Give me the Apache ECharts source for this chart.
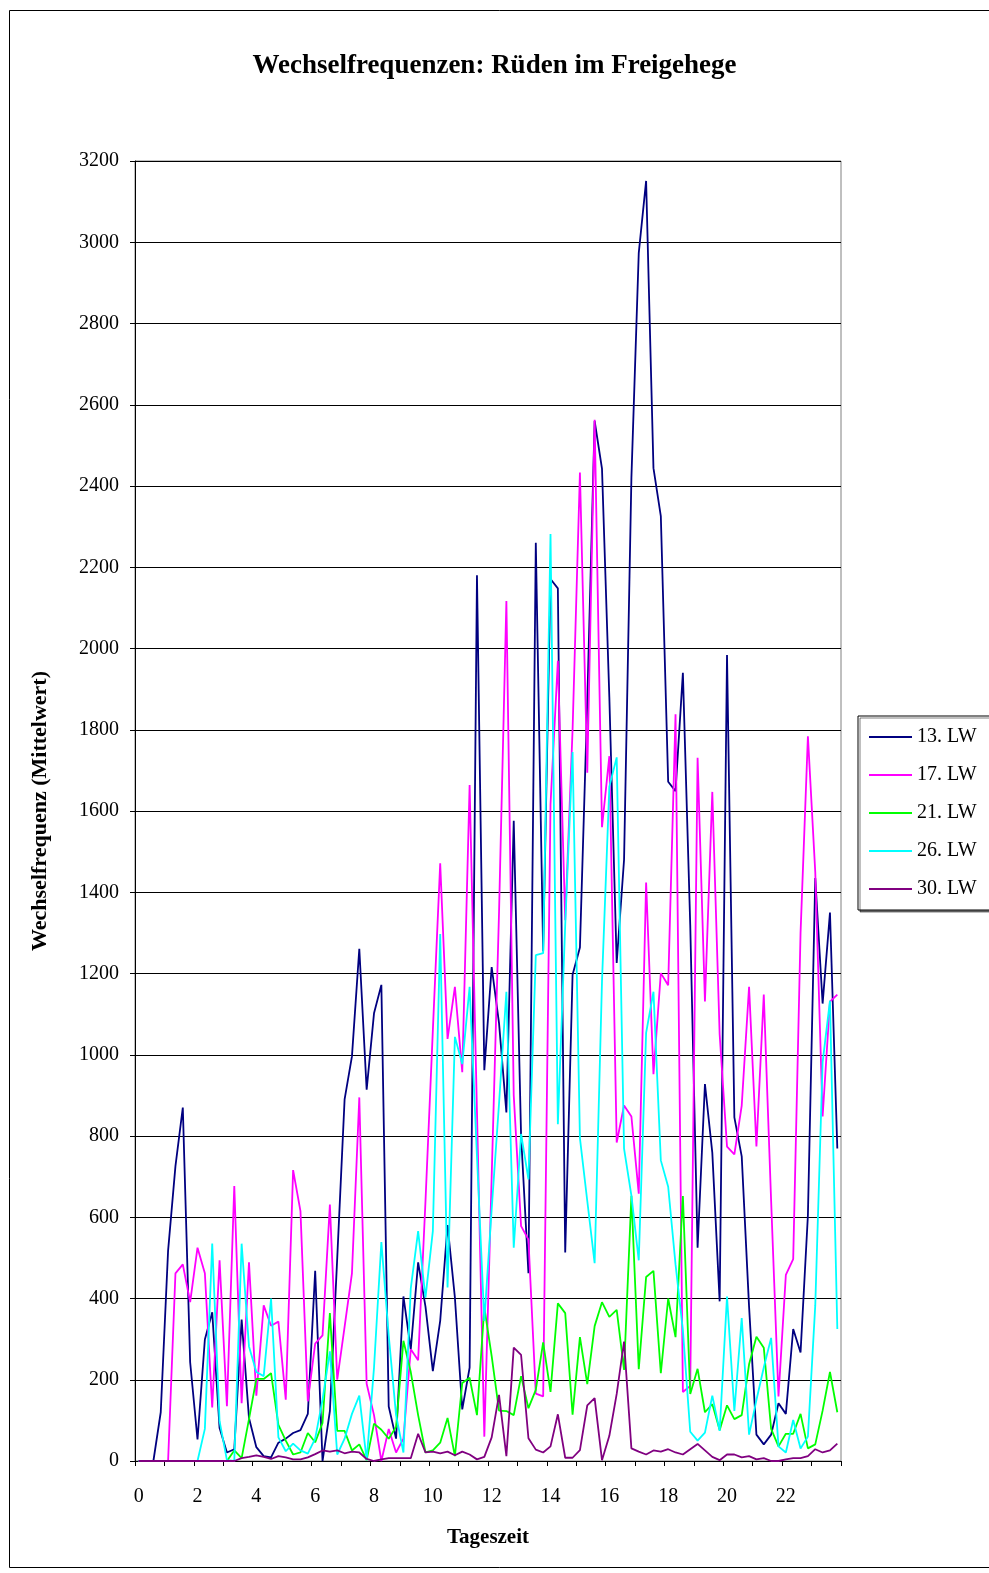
<!DOCTYPE html>
<html><head><meta charset="utf-8">
<script src="https://cdn.jsdelivr.net/npm/echarts@6/dist/echarts.min.js"></script>
<style>html,body{margin:0;padding:0;background:#fff}#c{width:989px;height:1573px}</style>
</head><body><div id="c"></div>
<script>
// time slots: 96 quarter-hours, labelled every 2 hours
const tickLabels = ["0","2","4","6","8","10","12","14","16","18","20","22"];
const seriesNames = ["13. LW","17. LW","21. LW","26. LW","30. LW"];
const lw13 = [0,0,0,120,518,726,870,243,53,299,366,81,21,29,348,106,34,12,9,45,55,69,76,116,468,0,123,500,890,996,1261,914,1102,1172,134,55,405,275,489,380,221,345,581,402,127,230,2180,962,1216,1078,858,1576,800,462,2260,1255,2171,2148,513,1197,1264,1870,2560,2443,1880,1226,1480,2420,2974,3151,2444,2326,1672,1649,1940,1320,525,928,759,393,1984,846,750,380,65,41,65,142,116,325,267,605,1435,1126,1350,769];
const lw17 = [0,0,0,0,0,462,484,391,525,462,132,494,135,677,142,489,161,383,333,343,151,716,615,147,289,309,631,200,330,462,895,190,113,0,79,21,55,275,248,640,1060,1471,1039,1167,957,1664,860,60,700,1350,2117,900,578,545,166,159,1616,1970,1331,1800,2433,1694,2563,1560,1735,784,875,848,658,1424,952,1201,1171,1838,170,185,1731,1131,1647,1050,774,755,875,1167,774,1148,640,159,458,497,1300,1784,1450,848,1131,1148];
const lw21 = [0,0,0,0,0,0,0,0,0,0,0,0,0,26,7,103,202,202,216,89,50,16,21,69,46,94,364,74,74,26,41,2,92,77,55,84,296,219,113,21,26,45,106,12,192,205,113,378,258,124,123,113,209,130,175,292,170,388,364,114,305,189,332,391,355,372,224,653,226,453,468,216,400,305,652,165,227,120,140,76,137,103,113,238,306,279,79,36,67,67,116,31,41,124,219,120];
const lw26 = [0,0,0,0,0,0,0,0,0,79,535,98,2,0,535,282,219,209,400,58,24,43,26,18,55,151,270,16,55,116,161,2,230,539,309,113,21,425,566,402,566,1297,427,1044,977,1167,750,345,620,880,1155,525,805,693,1245,1250,2282,829,1320,1745,795,640,487,1180,1660,1732,769,653,494,1054,1155,740,675,484,322,72,50,70,161,74,405,123,352,65,150,230,303,36,21,101,31,60,383,981,1133,325];
const lw30 = [0,0,0,0,0,0,0,0,0,0,0,0,0,0,7,10,14,10,5,12,9,4,4,9,17,26,23,26,19,23,21,5,0,4,7,7,7,7,67,21,23,19,23,14,23,16,4,10,58,163,12,279,261,56,28,21,36,115,8,8,27,137,155,2,62,165,294,31,23,16,26,23,29,21,16,29,42,26,10,2,16,16,9,12,4,7,0,0,4,7,7,12,29,21,26,43];
const colors = ["#000080","#FF00FF","#00FF00","#00FFFF","#800080"];

const categories = [];
for (let i = 0; i < 96; i++) categories.push(String(i));

const FONT = "Liberation Serif";
const chart = echarts.init(document.getElementById('c'), null, {renderer:'canvas'});
const dataList = [lw13, lw17, lw21, lw26, lw30];
chart.setOption({
  animation:false,
  backgroundColor:'#fff',
  title:{text:'Wechselfrequenzen: Rüden im Freigehege', left:'center', top:48,
    textStyle:{fontFamily:FONT, fontSize:27, fontWeight:'bold', color:'#000'}},
  graphic:[{type:'rect', left:7, top:8, shape:{width:1000, height:1557}, style:{fill:'none', stroke:'#000', lineWidth:1}, silent:true, z:-1}],
  legend:{orient:'vertical', left:858, top:716, width:140,
    padding:[11,20,11,11], itemGap:18, itemWidth:43, itemHeight:2,
    icon:'rect', backgroundColor:'#fff', borderColor:'#000', borderWidth:1,
    shadowColor:'rgba(0,0,0,0.5)', shadowOffsetX:2, shadowOffsetY:2,
    textStyle:{fontFamily:FONT, fontSize:20, color:'#000', height:20, lineHeight:20, padding:[0,0,0,0]},
    data:seriesNames},
  grid:{left:135, top:161, width:706, height:1300, show:true, borderColor:'#808080', borderWidth:1, backgroundColor:'#fff'},
  xAxis:{type:'category', data:categories, boundaryGap:true,
    name:'Tageszeit', nameLocation:'middle', nameGap:66,
    nameTextStyle:{fontFamily:FONT, fontSize:21, fontWeight:'bold', color:'#000'},
    axisLine:{lineStyle:{color:'#000', width:1}},
    axisTick:{show:true, interval:3, length:5, inside:false, lineStyle:{color:'#000'}},
    axisLabel:{interval:7, margin:26, fontFamily:FONT, fontSize:20, color:'#000',
      formatter:(v, idx)=> (idx % 8 === 0 ? tickLabels[idx/8] : '')},
    splitLine:{show:false}},
  yAxis:{type:'value', min:0, max:3200, interval:200,
    name:'Wechselfrequenz (Mittelwert)', nameLocation:'middle', nameGap:84,
    nameTextStyle:{fontFamily:FONT, fontSize:22, fontWeight:'bold', color:'#000'},
    axisLine:{show:true, lineStyle:{color:'#000', width:1}},
    axisTick:{show:true, length:5, lineStyle:{color:'#000'}},
    axisLabel:{margin:16, fontFamily:FONT, fontSize:20, color:'#000', formatter:(v)=>String(v)},
    splitLine:{show:true, lineStyle:{color:'#000', width:1}}},
  series: dataList.map((d, k) => ({
    name:seriesNames[k], type:'line', data:d, showSymbol:false, symbol:'none',
    lineStyle:{color:colors[k], width:1.8}, itemStyle:{color:colors[k]}, z:2+k
  }))
});
</script></body></html>
